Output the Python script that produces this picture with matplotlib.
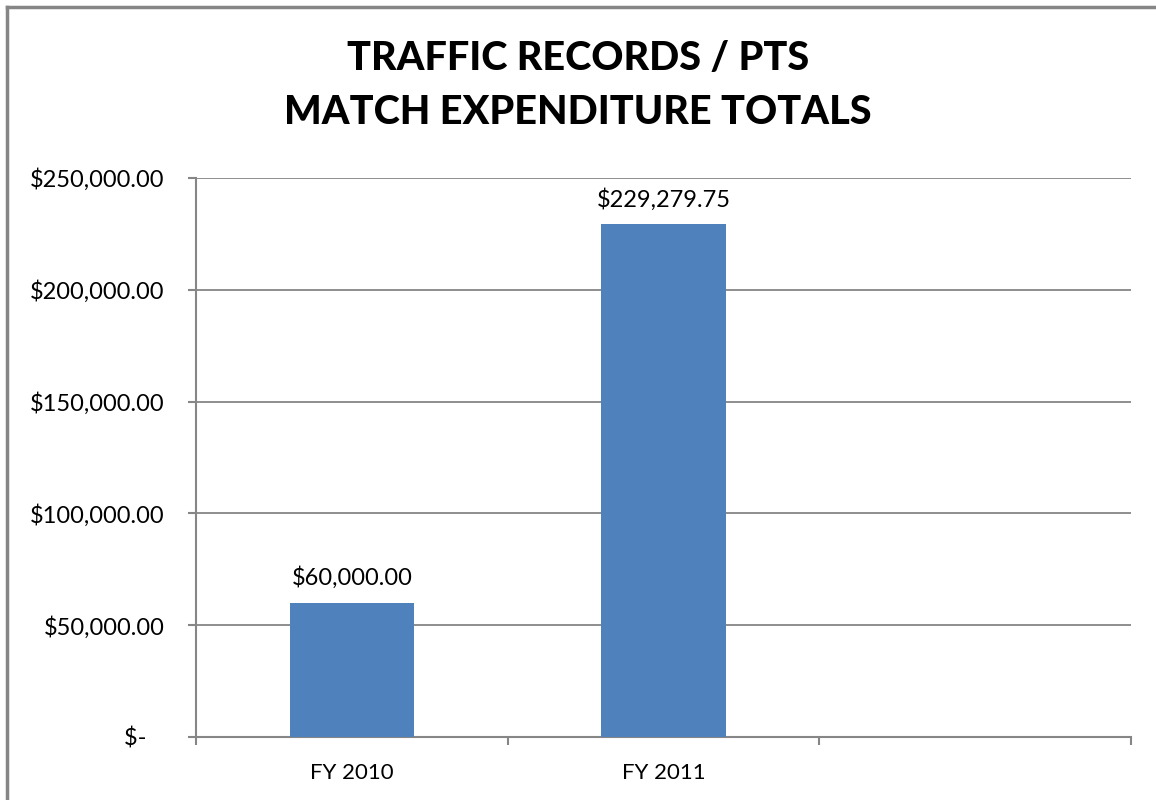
import numpy as np
import matplotlib.pyplot as plt
from matplotlib.lines import Line2D

# Data
categories = ['FY 2010', 'FY 2011', '']
totals = [60000.00, 229279.75]
y_ticks = [0, 50000, 100000, 150000, 200000, 250000]

BAR_COLOR = '#4F81BD'
AXIS_GRAY = '#868686'

plt.rcParams['font.family'] = ['Lato', 'DejaVu Sans']

fig = plt.figure(figsize=(11.56, 8.0), dpi=100)
ax = fig.add_axes([196 / 1156, 1 - 737 / 800, (1131 - 196) / 1156, (737 - 178) / 800])

x = np.arange(len(totals))
bars = ax.bar(x, totals, width=0.4, color=BAR_COLOR, zorder=3)

for xi, val in zip(x, totals):
    ax.annotate(f'${val:,.2f}', (xi, val), xytext=(0, 10), textcoords='offset points',
                ha='center', va='bottom', fontsize=17)

ax.set_xlim(-0.5, len(categories) - 0.5)
ax.set_ylim(0, 250000)

# category boundaries get the tick marks, centres get the labels
ax.set_xticks(np.arange(len(categories) + 1) - 0.5)
ax.set_xticklabels([])
ax.set_xticks(np.arange(len(categories)), minor=True)
ax.set_xticklabels(categories, minor=True, fontsize=16)
ax.tick_params(axis='x', which='major', length=5.8, width=1.5, color=AXIS_GRAY, direction='out')
ax.tick_params(axis='x', which='minor', length=0, pad=19)

def money(v):
    if v == 0:
        return '$-   '
    return f'${v:,.2f}'

ax.set_yticks(y_ticks)
ax.set_yticklabels([money(v) for v in y_ticks], fontsize=17)
ax.tick_params(axis='y', length=5.8, width=1.5, color=AXIS_GRAY, direction='out', pad=17)

ax.grid(axis='y', color=AXIS_GRAY, linewidth=1.3, zorder=0)
for side in ['top', 'right']:
    ax.spines[side].set_visible(False)
for side in ['left', 'bottom']:
    ax.spines[side].set_color(AXIS_GRAY)
    ax.spines[side].set_linewidth(1.5)
ax.set_axisbelow(True)

fig.text(0.5, 1 - 58 / 800, 'TRAFFIC RECORDS / PTS', ha='center', va='center',
         fontsize=28.5, fontweight='black')
fig.text(0.5, 1 - 113 / 800, 'MATCH EXPENDITURE TOTALS', ha='center', va='center',
         fontsize=28.5, fontweight='black')

# chart frame (only left and top edges show in the crop)
fig.add_artist(Line2D([7 / 1156, 7 / 1156], [0, 1 - 7 / 800], color=AXIS_GRAY, linewidth=2.5))
fig.add_artist(Line2D([7 / 1156, 1], [1 - 7 / 800, 1 - 7 / 800], color=AXIS_GRAY, linewidth=2.5))

fig.savefig('out.png', dpi=100)
